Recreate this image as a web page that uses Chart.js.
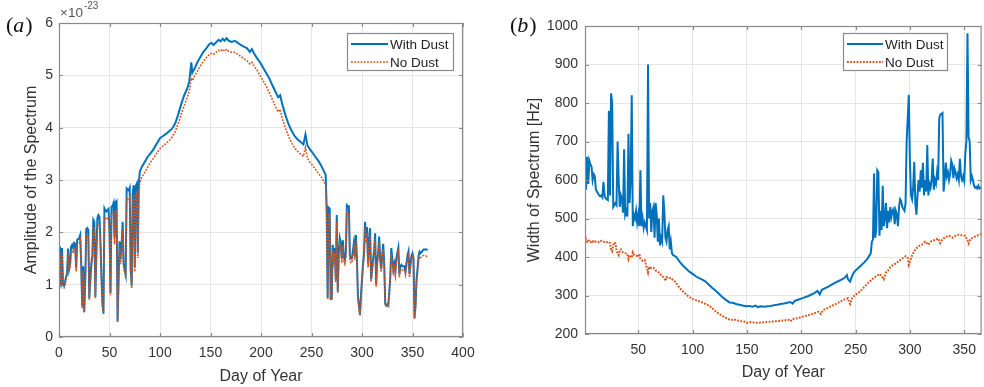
<!DOCTYPE html>
<html><head><meta charset="utf-8">
<script src="https://cdn.jsdelivr.net/npm/chart.js@4.4.1/dist/chart.umd.min.js"></script>
<style>
html,body{margin:0;padding:0;background:#fff;width:984px;height:387px;overflow:hidden}
#wa{position:absolute;left:0;top:0;width:490px;height:387px}
#wb{position:absolute;left:490px;top:0;width:494px;height:387px}
</style></head><body>
<div id="wa"><canvas id="ca" width="490" height="387"></canvas></div>
<div id="wb"><canvas id="cb" width="494" height="387"></canvas></div>
<script>
// ---------------- Panel (a): Amplitude of the Spectrum (x 1e-23) ----------------
const daysA = [
  1,2,3,4,5,6,7,8,9,10,11,12,13,14,15,16,17,18,19,20,
  21,22,23,24,25,26,27,28,29,30,31,32,33,34,35,36,37,38,39,40,
  41,42,43,44,45,46,47,48,49,50,51,52,53,54,55,56,57,58,59,60,
  61,62,63,64,65,66,67,68,69,70,71,72,73,74,75,76,77,78,79,80,
  82,85,88,91,94,97,100,103,106,109,
  112,115,118,121,124,127,129,131,132,134,
  137,140,143,146,149,151,153,156,158,160,
  162,164,166,168,171,174,177,180,183,186,
  189,191,193,196,199,202,205,208,211,214,
  217,219,221,224,227,230,233,236,239,242,
  244,246,248,251,254,257,260,262,264,
  265,266,267,268,269,270,271,272,273,274,275,276,277,278,279,280,281,282,283,284,
  285,286,287,288,289,290,291,292,293,294,295,296,297,298,299,300,301,302,303,304,
  305,306,307,308,309,310,311,312,313,314,315,316,317,318,319,320,321,322,323,324,
  325,326,327,328,329,330,331,332,333,334,335,336,337,338,339,340,341,342,343,344,
  345,346,347,348,349,350,351,352,353,354,355,356,357,358,359,360,361,362,363,364,365
];
const amplitudeWithDust = [
  1.73,0.96,1.70,1.00,0.98,1.05,1.15,1.22,1.69,1.30,
  1.40,1.73,1.76,1.70,1.80,1.78,1.31,1.86,1.87,1.89,
  1.95,1.40,0.58,1.35,0.48,1.10,2.06,2.08,2.05,0.74,
  1.10,1.40,1.55,2.24,2.20,0.77,1.60,2.27,2.33,2.30,
  1.85,1.20,0.64,0.45,2.46,2.42,2.40,2.43,2.45,2.05,
  0.83,2.49,2.50,2.56,1.89,2.58,2.60,0.29,1.10,1.83,
  1.48,1.75,2.20,1.40,1.30,1.20,2.84,2.82,2.80,2.85,
  1.27,0.98,2.75,2.90,1.33,2.88,2.93,1.60,2.93,3.16,
  3.25,3.35,3.45,3.52,3.60,3.70,3.80,3.84,3.88,3.93,
  3.98,4.08,4.25,4.45,4.62,4.75,4.88,5.25,5.05,5.12,
  5.25,5.35,5.45,5.52,5.60,5.62,5.58,5.64,5.68,5.65,
  5.70,5.66,5.71,5.66,5.64,5.66,5.62,5.58,5.55,5.52,
  5.45,5.50,5.42,5.33,5.25,5.15,5.05,4.95,4.82,4.70,
  4.58,4.62,4.45,4.25,4.08,3.95,3.85,3.78,3.73,3.68,
  3.87,3.66,3.60,3.52,3.44,3.36,3.26,3.18,3.10,
  2.48,0.74,2.47,2.45,0.73,0.74,1.76,1.55,1.70,1.10,
  2.33,0.87,1.60,1.89,1.80,1.50,1.85,1.55,1.47,1.60,
  2.52,2.50,2.50,1.55,1.50,1.50,1.65,1.80,1.55,1.95,
  1.50,0.77,0.60,0.42,0.80,1.10,1.40,1.60,2.20,1.90,
  2.10,1.40,1.80,2.08,1.10,1.30,1.50,1.65,1.98,1.00,
  1.45,1.60,1.92,1.50,1.30,1.55,1.78,1.40,0.64,0.60,
  0.62,0.60,0.85,1.15,1.70,1.50,1.30,1.40,1.25,1.50,
  1.60,1.70,1.20,1.35,1.38,1.35,1.35,1.35,1.25,1.40,
  1.55,1.63,1.20,1.40,1.55,1.60,1.50,0.36,0.60,1.10,
  1.30,1.55,1.63,1.60,1.62,1.65,1.67,1.67,1.67,1.67,
  1.66
];
const amplitudeNoDust = [
  1.62,0.93,1.60,0.95,0.94,1.00,1.10,1.17,1.60,1.25,
  1.33,1.63,1.66,1.60,1.70,1.68,1.25,1.76,1.77,1.79,
  1.85,1.32,0.55,1.27,0.47,1.04,1.93,1.95,1.92,0.71,
  1.04,1.32,1.46,2.10,2.06,0.74,1.50,2.13,2.18,2.15,
  1.74,1.13,0.61,0.44,2.30,2.26,2.24,2.27,2.29,1.92,
  0.80,2.33,2.34,2.40,1.77,2.41,2.43,0.29,1.04,1.71,
  1.39,1.64,2.06,1.32,1.22,1.13,2.66,2.63,2.62,2.66,
  1.20,0.93,2.57,2.71,1.25,2.69,2.74,1.51,2.74,2.95,
  3.05,3.15,3.25,3.35,3.43,3.52,3.60,3.65,3.70,3.75,
  3.82,3.92,4.08,4.25,4.42,4.58,4.70,4.95,4.90,4.98,
  5.08,5.18,5.27,5.34,5.40,5.42,5.40,5.45,5.48,5.46,
  5.50,5.46,5.50,5.46,5.44,5.44,5.40,5.36,5.32,5.28,
  5.22,5.25,5.18,5.10,5.00,4.90,4.80,4.68,4.55,4.42,
  4.30,4.35,4.18,4.00,3.85,3.72,3.62,3.55,3.50,3.45,
  3.62,3.42,3.35,3.28,3.20,3.12,3.05,2.98,2.92,
  2.35,0.72,2.33,2.30,0.70,0.72,1.66,1.45,1.60,1.05,
  2.20,0.84,1.50,1.78,1.70,1.42,1.75,1.46,1.40,1.52,
  2.38,2.36,2.36,1.47,1.42,1.42,1.56,1.70,1.47,1.85,
  1.42,0.74,0.58,0.41,0.77,1.05,1.33,1.52,2.08,1.80,
  1.98,1.33,1.70,1.96,1.05,1.24,1.42,1.56,1.87,0.96,
  1.38,1.52,1.82,1.42,1.24,1.47,1.68,1.33,0.62,0.58,
  0.60,0.58,0.82,1.10,1.60,1.42,1.24,1.33,1.18,1.42,
  1.52,1.60,1.14,1.28,1.30,1.28,1.28,1.28,1.19,1.33,
  1.47,1.54,1.14,1.33,1.47,1.52,1.42,0.35,0.58,1.05,
  1.24,1.47,1.54,1.52,1.53,1.55,1.56,1.55,1.55,1.54,
  1.53
];
const xTicksA = [0,50,100,150,200,250,300,350,400];
const yTicksA = [0,1,2,3,4,5,6];
const amplitudeExponent = '-23';

// ---------------- Panel (b): Width of Spectrum [Hz] ----------------
const daysBWithDust = [
  1,2,3,4,5,6,7,8,9,10,11,12,13,14,15,16,17,18,19,20,
  21,22,23,24,25,26,27,28,29,30,31,32,33,34,35,36,37,38,39,40,
  41,42,43,44,45,46,47,48,49,50,51,52,53,54,55,56,57,58,59,60,
  61,62,63,64,65,66,67,68,69,70,71,72,73,74,75,76,77,78,79,80,81,82,
  85,88,91,94,97,100,103,106,109,112,
  115,118,121,124,127,130,132,134,137,140,
  143,146,149,152,155,158,160,163,166,169,
  172,175,178,181,184,187,190,192,194,197,
  200,203,206,209,212,215,217,219,222,225,
  228,231,234,237,240,242,243,245,247,249,
  252,255,258,261,264,
  265,266,267,268,269,270,271,272,273,274,275,276,277,278,279,280,281,282,283,284,
  285,286,287,288,289,290,291,292,293,294,295,296,297,298,299,300,301,302,303,304,
  305,306,307,308,309,310,311,312,313,314,315,316,317,318,319,320,321,322,323,324,
  325,326,327,328,329,330,331,332,333,334,335,336,337,338,339,340,341,342,343,344,
  345,346,347,348,349,350,351,352,353,354,355,356,357,358,359,360,361,362,363,364,365,366
];
const widthWithDust = [
  665,575,660,590,650,640,635,600,615,610,
  575,570,565,560,558,560,555,595,560,552,
  550,548,780,560,825,800,530,535,540,535,
  700,600,530,560,550,515,680,510,520,505,
  720,540,600,820,480,510,500,520,490,510,
  480,625,480,500,475,490,480,470,900,500,
  540,465,520,530,450,540,510,440,500,430,
  450,440,560,520,450,440,470,480,420,440,
  410,405,
  400,388,378,370,362,356,350,345,341,336,
  328,320,313,305,297,290,286,282,281,278,
  276,274,272,273,271,274,270,272,271,272,
  273,275,276,278,279,281,283,279,286,289,
  292,295,298,302,306,312,303,315,319,323,
  328,333,337,341,346,353,342,336,352,362,
  370,378,386,396,410,
  440,445,617,450,470,625,620,455,520,470,
  585,480,500,540,475,520,490,530,505,520,
  525,485,520,510,480,530,550,545,530,525,
  520,540,700,760,821,650,560,550,580,647,
  540,510,560,600,570,625,580,645,560,600,
  570,691,560,590,580,600,656,575,600,590,
  620,600,760,770,772,774,570,600,645,610,
  620,600,615,650,640,605,630,620,605,615,
  600,655,610,600,610,598,669,700,981,712,
  700,600,610,600,585,580,582,578,585,578,
  580,578
];
const daysBNoDust = [
  1,2,3,4,5,6,7,8,9,10,12,14,16,18,20,22,24,
  25,26,27,28,29,30,31,32,33,34,36,38,40,41,42,44,45,46,48,50,
  51,52,54,56,57,58,59,60,61,62,64,66,68,70,72,74,75,76,78,80,
  82,84,86,88,90,93,96,100,104,108,
  112,116,120,124,128,132,135,138,141,145,
  148,150,153,156,160,164,168,172,176,180,
  184,188,190,192,196,200,204,208,212,216,
  218,220,224,228,232,236,240,243,244,245,
  247,250,254,258,262,266,270,272,274,276,
  278,280,282,285,288,291,294,296,298,299,
  300,302,305,308,311,314,317,320,323,326,
  328,330,333,336,339,342,345,348,351,353,
  354,356,358,361,364,366
];
const widthNoDust = [
  458,448,440,445,440,438,442,440,443,440,441,438,442,440,437,440,436,
  420,415,430,438,435,418,410,405,418,420,412,410,408,395,405,398,412,406,404,400,
  408,395,390,392,380,372,360,375,368,372,372,365,362,356,350,345,338,348,344,346,
  340,336,328,320,314,306,298,291,287,283,
  278,272,262,253,246,240,236,238,235,233,
  232,229,231,230,229,230,231,232,233,234,
  235,237,233,239,241,244,247,250,254,258,
  252,262,267,273,278,284,290,293,283,278,
  295,302,310,322,334,344,352,356,350,342,
  360,365,375,380,385,392,398,402,398,380,
  388,404,420,428,432,440,432,442,444,448,
  436,446,452,455,450,455,458,456,455,443,
  435,448,450,455,458,460
];
const xTicksB = [50,100,150,200,250,300,350];
const yTicksB = [200,300,400,500,600,700,800,900,1000];

const seriesLabels = ['With Dust', 'No Dust'];

// sanity check of lengths
[[daysA,amplitudeWithDust],[daysA,amplitudeNoDust],[daysBWithDust,widthWithDust],[daysBNoDust,widthNoDust]].forEach((p,i)=>{
  if (p[0].length !== p[1].length) throw new Error('length mismatch ' + i + ': ' + p[0].length + ' vs ' + p[1].length);
});

const toXY = (xs, ys) => xs.map((x, i) => ({x: x, y: ys[i]}));

Chart.defaults.font.family = "'Liberation Sans', Arial, Helvetica, sans-serif";
Chart.defaults.color = '#333';

const BLUE = '#0072BD', ORANGE = '#D95319';

const decorPlugin = {
  id: 'decor',
  afterDraw(chart, args, o) {
    const ctx = chart.ctx, a = chart.chartArea, xs = chart.scales.x, ys = chart.scales.y;
    ctx.save();
    // frame
    ctx.strokeStyle = '#8a8a8a';
    ctx.lineWidth = 1.2;
    ctx.strokeRect(a.left + 0.5, a.top + 0.5, a.right - a.left - 1, a.bottom - a.top - 1);
    // inward ticks
    const tl = 4;
    ctx.beginPath();
    xs.ticks.forEach(t => {
      const p = Math.round(xs.getPixelForValue(t.value)) + 0.5;
      ctx.moveTo(p, a.bottom); ctx.lineTo(p, a.bottom - tl);
      ctx.moveTo(p, a.top); ctx.lineTo(p, a.top + tl);
    });
    ys.ticks.forEach(t => {
      const p = Math.round(ys.getPixelForValue(t.value)) + 0.5;
      ctx.moveTo(a.left, p); ctx.lineTo(a.left + tl, p);
      ctx.moveTo(a.right, p); ctx.lineTo(a.right - tl, p);
    });
    ctx.stroke();

    // legend box
    const L = o.legend;
    ctx.fillStyle = '#fff';
    ctx.fillRect(L.x, L.y, L.w, L.h);
    ctx.strokeStyle = '#8a8a8a';
    ctx.lineWidth = 1.2;
    ctx.strokeRect(L.x + 0.5, L.y + 0.5, L.w, L.h);
    ctx.font = "13.5px 'Liberation Sans', Arial, sans-serif";
    ctx.textBaseline = 'middle';
    ctx.textAlign = 'left';
    chart.data.datasets.forEach((ds, i) => {
      const yy = L.y + L.row0 + i * L.rowGap;
      ctx.save();
      ctx.strokeStyle = ds.borderColor;
      ctx.lineWidth = ds.borderWidth;
      ctx.setLineDash(ds.borderDash || []);
      ctx.beginPath();
      ctx.moveTo(L.x + 4, yy); ctx.lineTo(L.x + L.lineLen, yy);
      ctx.stroke();
      ctx.restore();
      ctx.fillStyle = '#222';
      ctx.fillText(ds.label, L.x + L.lineLen + 2, yy + 1);
    });

    // panel label "(a)" / "(b)"
    const P = o.panel;
    ctx.fillStyle = '#111';
    ctx.textBaseline = 'alphabetic';
    const up = "22px 'Liberation Serif', 'Times New Roman', serif";
    const it = "italic 22px 'Liberation Serif', 'Times New Roman', serif";
    let px = P.x;
    ctx.font = up; ctx.fillText('(', px, P.y); px += ctx.measureText('(').width;
    ctx.font = it; ctx.fillText(P.letter, px, P.y); px += ctx.measureText(P.letter).width + 1;
    ctx.font = up; ctx.fillText(')', px, P.y);

    // exponent label
    if (o.exponent) {
      ctx.fillStyle = '#555';
      ctx.font = "13.5px 'Liberation Sans', Arial, sans-serif";
      ctx.fillText('\u00d710', a.left + 1, a.top - 6);
      const w = ctx.measureText('\u00d710').width;
      ctx.font = "10px 'Liberation Sans', Arial, sans-serif";
      ctx.fillText(o.exponent, a.left + 1 + w + 1, a.top - 14);
    }
    ctx.restore();
  }
};

function makeChart(canvasId, cfg) {
  return new Chart(document.getElementById(canvasId), {
    type: 'line',
    data: {
      datasets: [
        {label: seriesLabels[0], data: cfg.withDust, borderColor: BLUE, backgroundColor: BLUE,
         borderWidth: 2, pointRadius: 0, tension: 0, order: 1},
        {label: seriesLabels[1], data: cfg.noDust, borderColor: ORANGE, backgroundColor: ORANGE,
         borderWidth: cfg.dotWidth, borderDash: [1.8, 1.4], pointRadius: 0, tension: 0, order: 0}
      ]
    },
    options: {
      responsive: false,
      animation: false,
      devicePixelRatio: 1,
      layout: {padding: cfg.padding},
      plugins: {
        legend: {display: false},
        tooltip: {enabled: false},
        decor: {legend: cfg.legend, panel: cfg.panel, exponent: cfg.exponent}
      },
      scales: {
        x: {
          type: 'linear', min: cfg.xMin, max: cfg.xMax,
          afterBuildTicks: s => { s.ticks = cfg.xTicks.map(v => ({value: v})); },
          afterFit: s => { s.height = cfg.xAxisH; },
          grid: {color: '#e6e6e6', drawTicks: false, lineWidth: 1},
          border: {display: false},
          ticks: {padding: 8, maxRotation: 0, autoSkip: false, color: '#333',
                  font: {size: 14}, callback: v => String(v)},
          title: {display: true, text: 'Day of Year', color: '#333',
                  font: {size: 16}, padding: {top: 0, bottom: cfg.xTitlePad}}
        },
        y: {
          type: 'linear', min: cfg.yMin, max: cfg.yMax,
          afterBuildTicks: s => { s.ticks = cfg.yTicks.map(v => ({value: v})); },
          afterFit: s => { s.width = cfg.yAxisW; },
          grid: {color: '#e6e6e6', drawTicks: false, lineWidth: 1},
          border: {display: false},
          ticks: {padding: cfg.yTickPad, color: '#333', font: {size: 14}, callback: v => String(v)},
          title: {display: true, text: cfg.yTitle, color: '#333',
                  font: {size: 16}, padding: {top: cfg.yTitlePad, bottom: 0}}
        }
      }
    },
    plugins: [decorPlugin]
  });
}

makeChart('ca', {
  withDust: toXY(daysA, amplitudeWithDust),
  noDust: toXY(daysA, amplitudeNoDust),
  dotWidth: 1.6,
  xMin: 0, xMax: 400, yMin: 0, yMax: 6,
  xTicks: xTicksA, yTicks: yTicksA,
  padding: {top: 23, right: 27, left: 0, bottom: 0},
  xAxisH: 50, yAxisW: 59, yTickPad: 6,
  xTitlePad: 1, yTitlePad: 22,
  yTitle: 'Amplitude of the Spectrum',
  legend: {x: 347, y: 33, w: 106, h: 37, row0: 11, rowGap: 18, lineLen: 41},
  panel: {x: 6, y: 32, letter: 'a'},
  exponent: amplitudeExponent
});

makeChart('cb', {
  withDust: toXY(daysBWithDust, widthWithDust),
  noDust: toXY(daysBNoDust, widthNoDust),
  dotWidth: 2,
  xMin: 1, xMax: 366, yMin: 200, yMax: 1000,
  xTicks: xTicksB, yTicks: yTicksB,
  padding: {top: 26, right: 2, left: 0, bottom: 0},
  xAxisH: 53, yAxisW: 95, yTickPad: 7,
  xTitlePad: 5, yTitlePad: 35,
  yTitle: 'Width of Spectrum [Hz]',
  legend: {x: 353, y: 33, w: 104, h: 37, row0: 11, rowGap: 18, lineLen: 40},
  panel: {x: 20, y: 32, letter: 'b'},
  exponent: null
});
</script>
</body></html>
